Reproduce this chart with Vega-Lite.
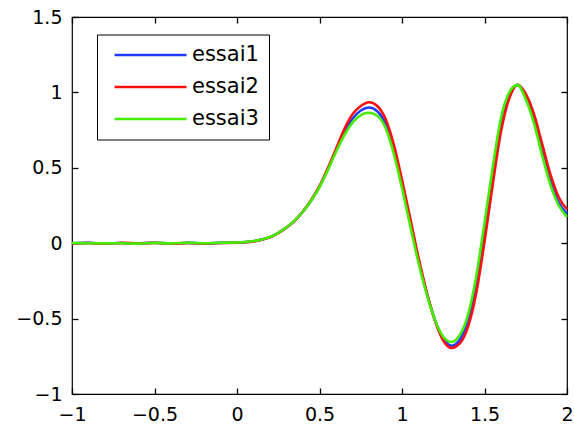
{
  "$schema": "https://vega.github.io/schema/vega-lite/v6.json",
  "width": 495,
  "height": 377,
  "autosize": "none",
  "padding": {"left": 72, "top": 17, "right": 7, "bottom": 32},
  "background": "white",
  "config": {
    "view": {"stroke": "black", "strokeWidth": 1.2},
    "font": "DejaVu Sans",
    "axis": {
      "domain": false,
      "grid": false,
      "ticks": true,
      "tickColor": "black",
      "tickSize": 6,
      "tickWidth": 1.3,
      "offset": -6,
      "labelFont": "DejaVu Sans",
      "labelFontSize": 19,
      "labelColor": "black",
      "format": "~g",
      "title": null
    }
  },
  "data": {
    "values": [
      {"x": -1.0, "y": 0.000, "s": "essai1"}, {"x": -0.9, "y": 0.002, "s": "essai1"}, {"x": -0.8, "y": -0.002, "s": "essai1"}, {"x": -0.7, "y": 0.001, "s": "essai1"}, {"x": -0.6, "y": -0.002, "s": "essai1"}, {"x": -0.5, "y": 0.003, "s": "essai1"}, {"x": -0.4, "y": -0.002, "s": "essai1"}, {"x": -0.3, "y": 0.002, "s": "essai1"}, {"x": -0.2, "y": -0.001, "s": "essai1"}, {"x": -0.1, "y": 0.002, "s": "essai1"},
      {"x": 0.0, "y": 0.004, "s": "essai1"}, {"x": 0.05, "y": 0.007, "s": "essai1"}, {"x": 0.1, "y": 0.013, "s": "essai1"}, {"x": 0.15, "y": 0.024, "s": "essai1"}, {"x": 0.2, "y": 0.040, "s": "essai1"}, {"x": 0.25, "y": 0.068, "s": "essai1"}, {"x": 0.3, "y": 0.105, "s": "essai1"}, {"x": 0.35, "y": 0.150, "s": "essai1"}, {"x": 0.4, "y": 0.210, "s": "essai1"}, {"x": 0.45, "y": 0.285, "s": "essai1"},
      {"x": 0.5, "y": 0.375, "s": "essai1"}, {"x": 0.55, "y": 0.49, "s": "essai1"}, {"x": 0.6, "y": 0.615, "s": "essai1"}, {"x": 0.65, "y": 0.735, "s": "essai1"}, {"x": 0.7, "y": 0.825, "s": "essai1"}, {"x": 0.75, "y": 0.88, "s": "essai1"}, {"x": 0.8, "y": 0.90, "s": "essai1"}, {"x": 0.85, "y": 0.875, "s": "essai1"}, {"x": 0.9, "y": 0.79, "s": "essai1"}, {"x": 0.95, "y": 0.62, "s": "essai1"},
      {"x": 1.0, "y": 0.39, "s": "essai1"}, {"x": 1.05, "y": 0.14, "s": "essai1"}, {"x": 1.1, "y": -0.11, "s": "essai1"}, {"x": 1.15, "y": -0.33, "s": "essai1"}, {"x": 1.2, "y": -0.51, "s": "essai1"}, {"x": 1.25, "y": -0.63, "s": "essai1"}, {"x": 1.3, "y": -0.68, "s": "essai1"}, {"x": 1.35, "y": -0.64, "s": "essai1"}, {"x": 1.4, "y": -0.51, "s": "essai1"}, {"x": 1.45, "y": -0.27, "s": "essai1"},
      {"x": 1.5, "y": 0.08, "s": "essai1"}, {"x": 1.55, "y": 0.46, "s": "essai1"}, {"x": 1.6, "y": 0.80, "s": "essai1"}, {"x": 1.65, "y": 0.985, "s": "essai1"}, {"x": 1.7, "y": 1.05, "s": "essai1"}, {"x": 1.75, "y": 0.97, "s": "essai1"}, {"x": 1.8, "y": 0.82, "s": "essai1"}, {"x": 1.85, "y": 0.61, "s": "essai1"}, {"x": 1.9, "y": 0.41, "s": "essai1"}, {"x": 1.95, "y": 0.27, "s": "essai1"}, {"x": 2.0, "y": 0.195, "s": "essai1"},

      {"x": -1.0, "y": -0.001, "s": "essai2"}, {"x": -0.9, "y": 0.001, "s": "essai2"}, {"x": -0.8, "y": -0.003, "s": "essai2"}, {"x": -0.7, "y": 0.002, "s": "essai2"}, {"x": -0.6, "y": -0.001, "s": "essai2"}, {"x": -0.5, "y": 0.002, "s": "essai2"}, {"x": -0.4, "y": -0.003, "s": "essai2"}, {"x": -0.3, "y": 0.001, "s": "essai2"}, {"x": -0.2, "y": -0.002, "s": "essai2"}, {"x": -0.1, "y": 0.001, "s": "essai2"},
      {"x": 0.0, "y": 0.003, "s": "essai2"}, {"x": 0.05, "y": 0.006, "s": "essai2"}, {"x": 0.1, "y": 0.012, "s": "essai2"}, {"x": 0.15, "y": 0.023, "s": "essai2"}, {"x": 0.2, "y": 0.039, "s": "essai2"}, {"x": 0.25, "y": 0.067, "s": "essai2"}, {"x": 0.3, "y": 0.104, "s": "essai2"}, {"x": 0.35, "y": 0.150, "s": "essai2"}, {"x": 0.4, "y": 0.211, "s": "essai2"}, {"x": 0.45, "y": 0.287, "s": "essai2"},
      {"x": 0.5, "y": 0.378, "s": "essai2"}, {"x": 0.55, "y": 0.495, "s": "essai2"}, {"x": 0.6, "y": 0.625, "s": "essai2"}, {"x": 0.65, "y": 0.755, "s": "essai2"}, {"x": 0.7, "y": 0.855, "s": "essai2"}, {"x": 0.75, "y": 0.91, "s": "essai2"}, {"x": 0.8, "y": 0.935, "s": "essai2"}, {"x": 0.85, "y": 0.91, "s": "essai2"}, {"x": 0.9, "y": 0.825, "s": "essai2"}, {"x": 0.95, "y": 0.655, "s": "essai2"},
      {"x": 1.0, "y": 0.42, "s": "essai2"}, {"x": 1.05, "y": 0.165, "s": "essai2"}, {"x": 1.1, "y": -0.095, "s": "essai2"}, {"x": 1.15, "y": -0.325, "s": "essai2"}, {"x": 1.2, "y": -0.515, "s": "essai2"}, {"x": 1.25, "y": -0.645, "s": "essai2"}, {"x": 1.3, "y": -0.695, "s": "essai2"}, {"x": 1.35, "y": -0.665, "s": "essai2"}, {"x": 1.4, "y": -0.555, "s": "essai2"}, {"x": 1.45, "y": -0.33, "s": "essai2"},
      {"x": 1.5, "y": 0.01, "s": "essai2"}, {"x": 1.55, "y": 0.39, "s": "essai2"}, {"x": 1.6, "y": 0.74, "s": "essai2"}, {"x": 1.65, "y": 0.96, "s": "essai2"}, {"x": 1.7, "y": 1.05, "s": "essai2"}, {"x": 1.75, "y": 0.99, "s": "essai2"}, {"x": 1.8, "y": 0.855, "s": "essai2"}, {"x": 1.85, "y": 0.655, "s": "essai2"}, {"x": 1.9, "y": 0.455, "s": "essai2"}, {"x": 1.95, "y": 0.305, "s": "essai2"}, {"x": 2.0, "y": 0.225, "s": "essai2"},

      {"x": -1.0, "y": 0.001, "s": "essai3"}, {"x": -0.9, "y": 0.000, "s": "essai3"}, {"x": -0.8, "y": -0.001, "s": "essai3"}, {"x": -0.7, "y": 0.000, "s": "essai3"}, {"x": -0.6, "y": -0.003, "s": "essai3"}, {"x": -0.5, "y": 0.002, "s": "essai3"}, {"x": -0.4, "y": -0.001, "s": "essai3"}, {"x": -0.3, "y": 0.003, "s": "essai3"}, {"x": -0.2, "y": 0.000, "s": "essai3"}, {"x": -0.1, "y": 0.003, "s": "essai3"},
      {"x": 0.0, "y": 0.005, "s": "essai3"}, {"x": 0.05, "y": 0.008, "s": "essai3"}, {"x": 0.1, "y": 0.014, "s": "essai3"}, {"x": 0.15, "y": 0.025, "s": "essai3"}, {"x": 0.2, "y": 0.041, "s": "essai3"}, {"x": 0.25, "y": 0.069, "s": "essai3"}, {"x": 0.3, "y": 0.106, "s": "essai3"}, {"x": 0.35, "y": 0.151, "s": "essai3"}, {"x": 0.4, "y": 0.210, "s": "essai3"}, {"x": 0.45, "y": 0.283, "s": "essai3"},
      {"x": 0.5, "y": 0.372, "s": "essai3"}, {"x": 0.55, "y": 0.483, "s": "essai3"}, {"x": 0.6, "y": 0.605, "s": "essai3"}, {"x": 0.65, "y": 0.715, "s": "essai3"}, {"x": 0.7, "y": 0.80, "s": "essai3"}, {"x": 0.75, "y": 0.85, "s": "essai3"}, {"x": 0.8, "y": 0.865, "s": "essai3"}, {"x": 0.85, "y": 0.845, "s": "essai3"}, {"x": 0.9, "y": 0.765, "s": "essai3"}, {"x": 0.95, "y": 0.595, "s": "essai3"},
      {"x": 1.0, "y": 0.365, "s": "essai3"}, {"x": 1.05, "y": 0.115, "s": "essai3"}, {"x": 1.1, "y": -0.13, "s": "essai3"}, {"x": 1.15, "y": -0.34, "s": "essai3"}, {"x": 1.2, "y": -0.51, "s": "essai3"}, {"x": 1.25, "y": -0.62, "s": "essai3"}, {"x": 1.3, "y": -0.655, "s": "essai3"}, {"x": 1.35, "y": -0.61, "s": "essai3"}, {"x": 1.4, "y": -0.475, "s": "essai3"}, {"x": 1.45, "y": -0.22, "s": "essai3"},
      {"x": 1.5, "y": 0.135, "s": "essai3"}, {"x": 1.55, "y": 0.505, "s": "essai3"}, {"x": 1.6, "y": 0.83, "s": "essai3"}, {"x": 1.65, "y": 1.0, "s": "essai3"}, {"x": 1.7, "y": 1.05, "s": "essai3"}, {"x": 1.75, "y": 0.955, "s": "essai3"}, {"x": 1.8, "y": 0.795, "s": "essai3"}, {"x": 1.85, "y": 0.58, "s": "essai3"}, {"x": 1.9, "y": 0.385, "s": "essai3"}, {"x": 1.95, "y": 0.25, "s": "essai3"}, {"x": 2.0, "y": 0.175, "s": "essai3"}
    ]
  },
  "layer": [
    {
      "mark": {"type": "line", "strokeWidth": 2.6, "interpolate": "monotone"},
      "encoding": {
        "x": {"field": "x", "type": "quantitative", "scale": {"domain": [-1, 2], "nice": false, "zero": false},
              "axis": {"orient": "bottom", "values": [-1, -0.5, 0, 0.5, 1, 1.5, 2], "labelPadding": 11, "labelFlush": false}},
        "y": {"field": "y", "type": "quantitative", "scale": {"domain": [-1, 1.5], "nice": false, "zero": false},
              "axis": {"orient": "left", "values": [-1, -0.5, 0, 0.5, 1, 1.5], "labelPadding": 10, "labelFlush": false}},
        "color": {"field": "s", "type": "nominal",
                  "scale": {"domain": ["essai1", "essai2", "essai3"], "range": ["#1f3cff", "#ff1010", "#44ee00"]},
                  "legend": {"orient": "none", "legendX": 25, "legendY": 17.5, "title": null,
                             "symbolType": "M-1,0H11", "symbolSize": 144, "symbolStrokeWidth": 2.6,
                             "labelFontSize": 21, "labelFont": "DejaVu Sans", "labelColor": "black",
                             "strokeColor": "black", "fillColor": "white", "padding": 10, "rowPadding": 10,
                             "labelOffset": 61, "symbolOffset": 3}}
      }
    },
    {
      "mark": {"type": "line", "opacity": 0},
      "encoding": {
        "x": {"field": "x", "type": "quantitative", "axis": {"orient": "top", "labels": false, "values": [-1, -0.5, 0, 0.5, 1, 1.5, 2]}},
        "y": {"field": "y", "type": "quantitative", "axis": {"orient": "right", "labels": false, "values": [-1, -0.5, 0, 0.5, 1, 1.5]}},
        "detail": {"field": "s"}
      }
    }
  ],
  "resolve": {"axis": {"x": "independent", "y": "independent"}}
}
